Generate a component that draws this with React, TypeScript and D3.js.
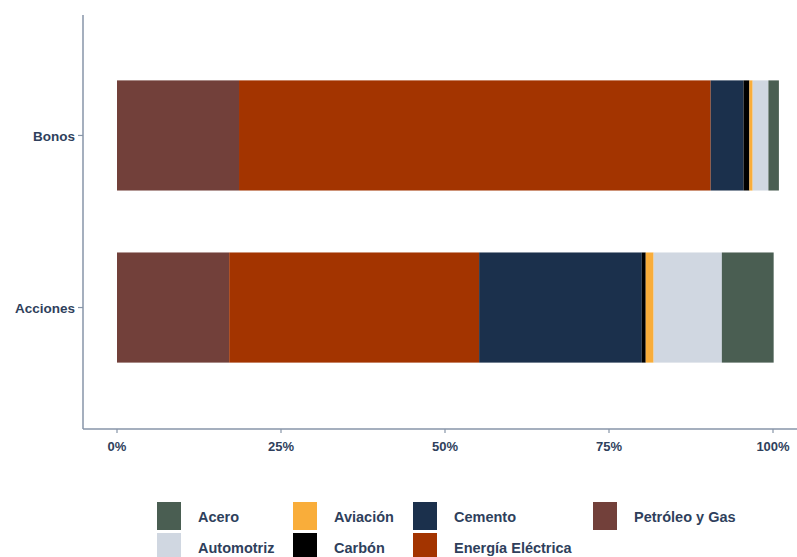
import React from "react";
import * as d3 from "d3";

const categories = ["Bonos", "Acciones"];
const sectors = ["Petróleo y Gas", "Energía Eléctrica", "Cemento", "Carbón", "Aviación", "Automotriz", "Acero"];
const bonosValues = [18.6, 71.9, 5.0, 0.9, 0.5, 2.4, 1.6];
const accionesValues = [17.1, 38.1, 24.8, 0.6, 1.2, 10.4, 7.9];
const legendOrder = ["Acero", "Automotriz", "Aviación", "Carbón", "Cemento", "Energía Eléctrica", "Petróleo y Gas"];
const sectorColors = ["#72403a", "#a33400", "#1b304c", "#000000", "#f9ad3a", "#d0d7e1", "#4a5e52"];
const tickValues = [0, 25, 50, 75, 100];

const W = 797;
const H = 557;
const axisColor = "#8795a8";
const textColor = "#2f3f5c";
const font = "'Liberation Sans', Arial, sans-serif";

export default function App() {
  const x = d3.scaleLinear().domain([0, 100]).range([117, 773]);
  const y = d3.scaleBand<string>().domain(categories).range([15, 428]).paddingInner(0.36).paddingOuter(0.38);
  const color = d3.scaleOrdinal<string, string>().domain(sectors).range(sectorColors);

  const table = categories.map((c, i) => {
    const vals = i === 0 ? bonosValues : accionesValues;
    const row: Record<string, any> = { cat: c };
    sectors.forEach((s, j) => (row[s] = vals[j]));
    return row;
  });
  const stacked = d3.stack<any>().keys(sectors)(table);

  const plotLeft = 83;
  const plotBottom = 429;

  return (
    <svg width={W} height={H} style={{ position: "absolute", left: 0, top: 0, background: "#fff" }}>
      {stacked.map((layer) =>
        layer.map((d, i) => (
          <rect
            key={layer.key + i}
            x={x(d[0])}
            width={Math.max(0, x(d[1]) - x(d[0]))}
            y={y(categories[i])}
            height={y.bandwidth()}
            fill={color(layer.key)}
          />
        ))
      )}
      {/* axes */}
      <line x1={plotLeft} x2={plotLeft} y1={15} y2={plotBottom} stroke={axisColor} strokeWidth={1.5} />
      <line x1={plotLeft} x2={W} y1={plotBottom} y2={plotBottom} stroke={axisColor} strokeWidth={1.5} />
      {categories.map((c) => {
        const cy = (y(c) as number) + y.bandwidth() / 2;
        return (
          <g key={c}>
            <line x1={plotLeft - 5} x2={plotLeft} y1={cy} y2={cy} stroke={axisColor} strokeWidth={1.2} />
            <text x={plotLeft - 8} y={cy + 1} textAnchor="end" dominantBaseline="central" fill={textColor} fontFamily={font} fontWeight="bold" fontSize={13.5}>
              {c}
            </text>
          </g>
        );
      })}
      {tickValues.map((t) => (
        <g key={t}>
          <line x1={x(t)} x2={x(t)} y1={plotBottom} y2={plotBottom + 4} stroke={axisColor} strokeWidth={1.2} />
          <text x={x(t)} y={446} textAnchor="middle" dominantBaseline="central" fill={textColor} fontFamily={font} fontWeight="bold" fontSize={13}>
            {t + "%"}
          </text>
        </g>
      ))}
      {/* legend */}
      {legendOrder.map((s, i) => {
        const col = Math.floor(i / 2);
        const row = i % 2;
        const colX = [157, 293, 413, 593][col];
        const ky = 502 + row * 31;
        return (
          <g key={s}>
            <rect x={colX} y={ky} width={24} height={28} fill={color(s)} />
            <text x={colX + 41} y={ky + 15} dominantBaseline="central" fill={textColor} fontFamily={font} fontWeight="bold" fontSize={14.5}>
              {s}
            </text>
          </g>
        );
      })}
    </svg>
  );
}
